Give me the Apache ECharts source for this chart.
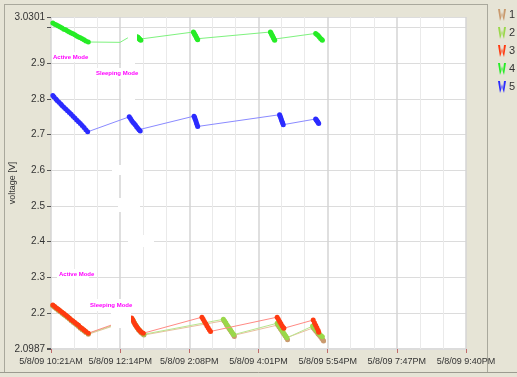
<!DOCTYPE html>
<html>
<head>
<meta charset="utf-8">
<script src="https://cdn.jsdelivr.net/npm/echarts@6/dist/echarts.min.js"></script>
<style>
  html, body { margin: 0; padding: 0; background: #e6e4d6; }
  #chart { width: 517px; height: 377px; }
</style>
</head>
<body>
<div id="chart"></div>
<script>
// Node battery voltage log, 5/8/09.
// Times are minutes after 10:21 AM, voltages in V.

const seriesNames = ['1', '2', '3', '4', '5'];
const xTickLabels = ['5/8/09 10:21AM', '5/8/09 12:14PM', '5/8/09 2:08PM', '5/8/09 4:01PM',
                     '5/8/09 5:54PM', '5/8/09 7:47PM', '5/8/09 9:40PM'];
const xSpanMinutes = 679;
const yMin = 2.0987;
const yMax = 3.0301;

// Active-mode samples (dense bursts) for each node
const s1Active = [
  [3,2.219],[6,2.215],[9,2.211],[12,2.207],[15,2.203],[18,2.199],[21,2.195],[24,2.191],[27,2.187],[30,2.183],
  [33,2.178],[36,2.174],[39,2.170],[42,2.166],[45,2.162],[48,2.157],[51,2.153],[54,2.149],[57,2.145],[61,2.140],
  [133,2.181],[135,2.175],[137,2.169],[139,2.163],[141,2.158],[143,2.153],[145,2.149],[147,2.145],[150,2.141],[152,2.138],
  [283,2.178],[285,2.173],[287,2.167],[289,2.162],[291,2.157],[293,2.152],[295,2.147],[297,2.142],[299,2.137],[300,2.134],
  [371,2.166],[373,2.161],[375,2.156],[377,2.151],[379,2.146],[381,2.141],[383,2.136],[385,2.130],[387,2.125],
  [429,2.158],[431,2.154],[433,2.150],[435,2.146],[437,2.141],[439,2.137],[441,2.133],[443,2.128],[445,2.124],[446,2.121]
];
const s2Active = [
  [3,2.221],[6,2.217],[9,2.213],[12,2.209],[15,2.205],[18,2.201],[21,2.197],[24,2.193],[27,2.189],[30,2.185],
  [33,2.180],[36,2.176],[39,2.172],[42,2.168],[45,2.164],[48,2.159],[51,2.155],[54,2.151],[57,2.147],[61,2.142],
  [133,2.183],[135,2.177],[137,2.171],[139,2.165],[141,2.160],[143,2.155],[145,2.151],[147,2.147],[150,2.143],[152,2.140],
  [282,2.182],[284,2.177],[286,2.172],[288,2.166],[290,2.161],[292,2.156],[294,2.151],[296,2.146],[298,2.141],[299,2.139],
  [370,2.171],[372,2.166],[374,2.161],[376,2.156],[378,2.151],[380,2.146],[382,2.140],[384,2.135],[386,2.130],
  [428,2.163],[430,2.159],[432,2.155],[434,2.151],[436,2.147],[438,2.143],[440,2.139],[442,2.136],[444,2.133]
];
const s3Active = [
  [3,2.222],[6,2.218],[9,2.214],[12,2.210],[15,2.206],[18,2.202],[21,2.198],[24,2.194],[27,2.190],[30,2.186],
  [33,2.181],[36,2.177],[39,2.173],[42,2.169],[45,2.165],[48,2.160],[51,2.156],[54,2.152],[57,2.148],[61,2.143],
  [132,2.186],[134,2.180],[136,2.173],[138,2.167],[140,2.162],[142,2.157],[144,2.153],[146,2.149],[148,2.146],[151,2.143],
  [247,2.188],[249,2.182],[251,2.176],[253,2.170],[255,2.164],[257,2.158],[259,2.153],[261,2.148],
  [370,2.188],[372,2.182],[374,2.176],[376,2.170],[378,2.164],[380,2.159],[381,2.157],
  [429,2.180],[431,2.172],[433,2.165],[435,2.158],[437,2.151],[438,2.146]
];
const s4Active = [
  [3,3.013],[6,3.010],[9,3.008],[12,3.005],[15,3.002],[18,2.999],[21,2.996],[24,2.994],[27,2.991],[30,2.988],
  [33,2.985],[36,2.983],[39,2.980],[42,2.977],[45,2.974],[48,2.972],[51,2.969],[54,2.966],[57,2.963],[61,2.960],
  [141,2.975],[142,2.973],[143,2.972],[144,2.970],[145,2.968],[146,2.966],[147,2.965],
  [233,2.988],[234,2.985],[235,2.982],[236,2.979],[237,2.976],[238,2.972],[239,2.969],[240,2.966],
  [359,2.988],[360,2.985],[361,2.981],[362,2.978],[363,2.975],[364,2.971],[365,2.968],[366,2.965],
  [433,2.984],[435,2.981],[437,2.978],[439,2.974],[441,2.970],[443,2.967],[444,2.965]
];
const s5Active = [
  [3,2.810],[5,2.806],[8,2.800],[10,2.796],[13,2.791],[16,2.786],[18,2.782],[21,2.777],[24,2.772],[27,2.767],
  [30,2.762],[33,2.757],[36,2.752],[39,2.747],[42,2.741],[45,2.736],[48,2.731],[51,2.726],[54,2.720],[57,2.714],[60,2.708],
  [128,2.750],[130,2.745],[132,2.740],[134,2.735],[136,2.731],[138,2.727],[140,2.722],[142,2.718],[144,2.714],[146,2.710],
  [234,2.752],[235,2.748],[236,2.743],[237,2.738],[238,2.733],[239,2.728],[240,2.723],
  [374,2.756],[375,2.752],[376,2.747],[377,2.742],[378,2.737],[379,2.733],[380,2.728],
  [433,2.744],[434,2.742],[435,2.739],[436,2.737],[437,2.734],[438,2.731]
];

// Sleeping-mode samples (drawn as line only)
const s1Sleep = [];
const s2Sleep = [];
const s3Sleep = [];
const s4Sleep = [[113,2.959],[125,2.971]];
const s5Sleep = [];

const markColors = ['#c99a6e', '#9ad84a', '#ff3a10', '#26ec26', '#2b2bff'];
const lineColors = ['#e8bf9e', '#b9e68e', '#ff8a84', '#7ef27e', '#8a8aff'];

const FONT = "'Liberation Sans Narrow', 'Liberation Sans', 'Arial', sans-serif";

function buildData(active, sleep) {
  const pts = active.map(p => ({ value: [p[0] * 60, p[1]] }))
    .concat(sleep.map(p => ({ value: [p[0] * 60, p[1]], symbolSize: 0 })));
  pts.sort((a, b) => a.value[0] - b.value[0]);
  return pts;
}

const actives = [s1Active, s2Active, s3Active, s4Active, s5Active];
const sleeps = [s1Sleep, s2Sleep, s3Sleep, s4Sleep, s5Sleep];

const legendIcon = 'path://M0,0L2,0L3,8L4,3L5,8L6,0L8,0L6,12L4,6L2,12Z';

const series = seriesNames.map((name, i) => ({
  name: name,
  type: 'line',
  data: buildData(actives[i], sleeps[i]),
  symbol: 'circle',
  symbolSize: 5,
  showAllSymbol: true,
  lineStyle: { width: 1, color: lineColors[i] },
  itemStyle: { color: markColors[i], borderWidth: 0 },
  emphasis: { disabled: true },
  z: 2 + i
}));

const xSpanSec = xSpanMinutes * 60;
const xStep = xSpanSec / 6;

function yLabel(v) {
  if (Math.abs(v - yMin) < 1e-6) return '2.0987';
  if (Math.abs(v - yMax) < 1e-6) return '3.0301';
  if (v - yMin < 0.05 || yMax - v < 0.05) return '';
  return v.toFixed(1);
}

// white boxes behind the mode notes and pasted-over areas of the plot
const whiteBoxes = [
  [52, 52, 30, 10], [94, 68, 36, 11], [57, 269, 32, 10], [88, 299, 38, 12],
  [111, 300, 20, 28], [128, 30, 9, 11], [121, 46, 14, 58],
  [112, 165, 31, 10], [118, 198, 22, 14], [128, 235, 26, 12]
];
const notes = [
  ['Active Mode', 53, 57], ['Sleeping Mode', 96, 73],
  ['Active Mode', 59, 274], ['Sleeping Mode', 90, 305]
];

const graphic = [
  { type: 'line', shape: { x1: 4.5, y1: 4, x2: 4.5, y2: 372 }, style: { stroke: '#a9a89c', lineWidth: 1 }, z: 0 },
  { type: 'line', shape: { x1: 4, y1: 4.5, x2: 487, y2: 4.5 }, style: { stroke: '#a9a89c', lineWidth: 1 }, z: 0 },
  { type: 'line', shape: { x1: 487.5, y1: 4, x2: 487.5, y2: 372 }, style: { stroke: '#a9a89c', lineWidth: 1 }, z: 0 },
  { type: 'line', shape: { x1: 0, y1: 372.5, x2: 517, y2: 372.5 }, style: { stroke: '#9c9b90', lineWidth: 1 }, z: 0 }
].concat(whiteBoxes.map(b => ({
  type: 'rect', shape: { x: b[0], y: b[1], width: b[2], height: b[3] },
  style: { fill: '#ffffff' }, z: 50
}))).concat(notes.map(n => ({
  type: 'text', x: n[1], y: n[2],
  style: { text: n[0], fill: '#ff00ff', font: 'bold 6px ' + FONT, textVerticalAlign: 'middle' },
  z: 51
})));

const chart = echarts.init(document.getElementById('chart'), null, { renderer: 'canvas' });
chart.setOption({
  animation: false,
  backgroundColor: '#e6e4d6',
  textStyle: { fontFamily: FONT },
  grid: {
    left: 51, right: 51, top: 17, bottom: 28,
    outerBoundsMode: 'none', containLabel: false,
    show: true, backgroundColor: '#ffffff', borderWidth: 0
  },
  legend: {
    data: seriesNames.map(n => ({ name: n, icon: legendIcon })),
    orient: 'vertical', left: 498, top: 9, padding: 0,
    itemWidth: 8, itemHeight: 12, itemGap: 6,
    textStyle: { fontSize: 11, color: '#333', fontFamily: FONT, padding: [0, 0, 0, -2] },
    selectedMode: false
  },
  xAxis: {
    type: 'value', min: 0, max: xSpanSec, interval: xStep,
    axisLine: { show: false },
    axisTick: { show: true, length: 4, lineStyle: { color: '#c06a6a' } },
    axisLabel: {
      formatter: v => xTickLabels[Math.round(v / xStep)] || '',
      color: '#333', fontSize: 9, margin: 8, fontFamily: FONT,
      showMinLabel: true, showMaxLabel: true, hideOverlap: false
    },
    splitLine: { show: true, lineStyle: { color: '#d4d4d4', width: 1.5 } },
    minorTick: { show: false, splitNumber: 3 },
    minorSplitLine: { show: true, lineStyle: { color: '#eaeaea', width: 1 } }
  },
  yAxis: {
    type: 'value', min: yMin, max: yMax, splitNumber: 9,
    name: 'voltage [V]', nameLocation: 'middle', nameGap: 34, nameMoveOverlap: false,
    nameTextStyle: { fontSize: 9, color: '#333', fontFamily: FONT },
    axisLine: { show: false },
    axisTick: { show: true, length: 4, lineStyle: { color: '#555' } },
    axisLabel: { formatter: yLabel, color: '#333', fontSize: 10, margin: 6, fontFamily: FONT,
                 showMinLabel: true, showMaxLabel: true },
    splitLine: { show: true, lineStyle: { color: '#dcdcdc', width: 1 } }
  },
  graphic: graphic,
  series: series
});
</script>
</body>
</html>
